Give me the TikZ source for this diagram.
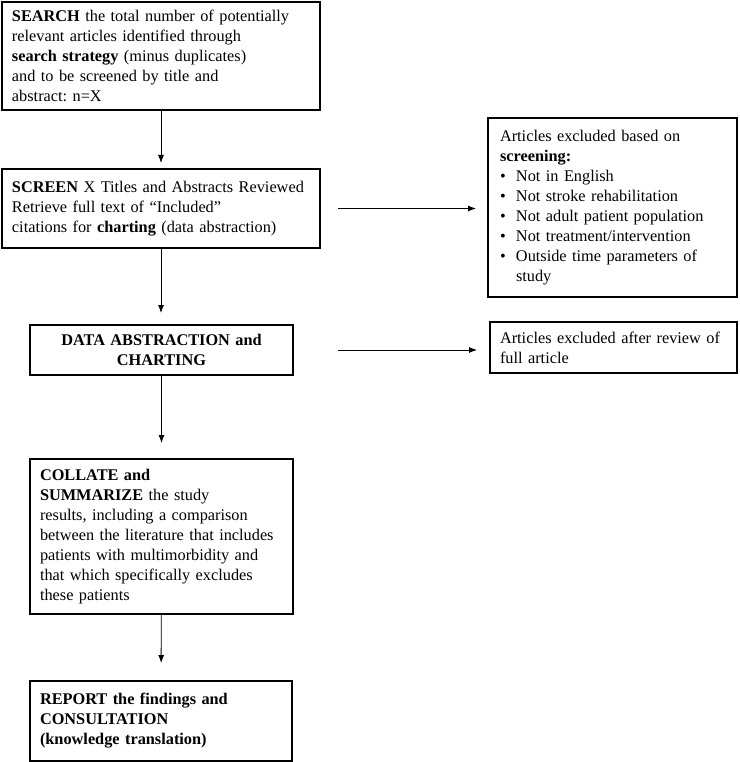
\documentclass[tikz,border=0pt]{standalone}
\usepackage{fontspec}
\setmainfont{Liberation Serif}
\usetikzlibrary{positioning, arrows.meta}

\newcommand{\bul}{\makebox[16pt][l]{\textbullet}}
\frenchspacing

\begin{document}
\begin{tikzpicture}[x=1pt, y=-1pt, font=\fontsize{16.3}{20}\selectfont,
  box/.style={draw, line width=1.3pt, anchor=north west, align=left, outer sep=0pt, inner xsep=10pt, inner ysep=0pt},
  flow/.style={-{Latex[length=8pt,width=6pt]}, line width=0.9pt}]

\useasboundingbox (0,0) rectangle (739,762);

%Main column
\node[box, text width=298pt, minimum height=108pt] (search) at (2,2)
  {\textbf{SEARCH} the total number of potentially\\relevant articles identified through\\\textbf{search strategy} (minus duplicates)\\and to be screened by title and\\abstract: n=X};
\node[box, text width=298pt, minimum height=79pt] (screen) at (2,169)
  {\textbf{SCREEN} X Titles and Abstracts Reviewed\\Retrieve full text of ``Included''\\citations for \textbf{charting} (data abstraction)};
\node[box, align=center, text width=243pt, minimum height=50pt] (chart) at (30,325)
  {\textbf{DATA ABSTRACTION and}\\\textbf{CHARTING}};
\node[box, text width=243pt, minimum height=155pt] (collate) at (30,459)
  {\textbf{COLLATE and}\\\textbf{SUMMARIZE} the study\\results, including a comparison\\between the literature that includes\\patients with multimorbidity and\\that which specifically excludes\\these patients};
\node[box, text width=242pt, minimum height=80pt] (report) at (30,681)
  {\textbf{REPORT the findings and}\\\textbf{CONSULTATION}\\\textbf{(knowledge translation)}};

%Excluded
\node[box, inner xsep=12pt, text width=225pt, minimum height=179pt] (excl1) at (488,118)
  {Articles excluded based on\\\textbf{screening:}\\\bul Not in English\\\bul Not stroke rehabilitation\\\bul Not adult patient population\\\bul Not treatment/intervention\\\bul Outside time parameters of\\\hspace*{16pt}study};
\node[box, text width=227pt, minimum height=51pt] (excl2) at (490,322)
  {Articles excluded after review of\\full article};

%Arrows
\draw[flow, shorten >=6pt] (search) -- (screen);
\draw[flow, shorten >=12pt] (screen.south) -- (screen.south |- chart.north);
\draw[flow, shorten >=16pt] (chart) -- (collate);
\draw[flow, shorten >=18pt] (collate) -- (report);
\draw[flow, shorten <=18pt, shorten >=12pt] (screen.east) -- (screen.east -| excl1.west);
\draw[flow, shorten <=45pt, shorten >=13pt] (chart.east) -- (chart.east -| excl2.west);
\end{tikzpicture}
\end{document}
